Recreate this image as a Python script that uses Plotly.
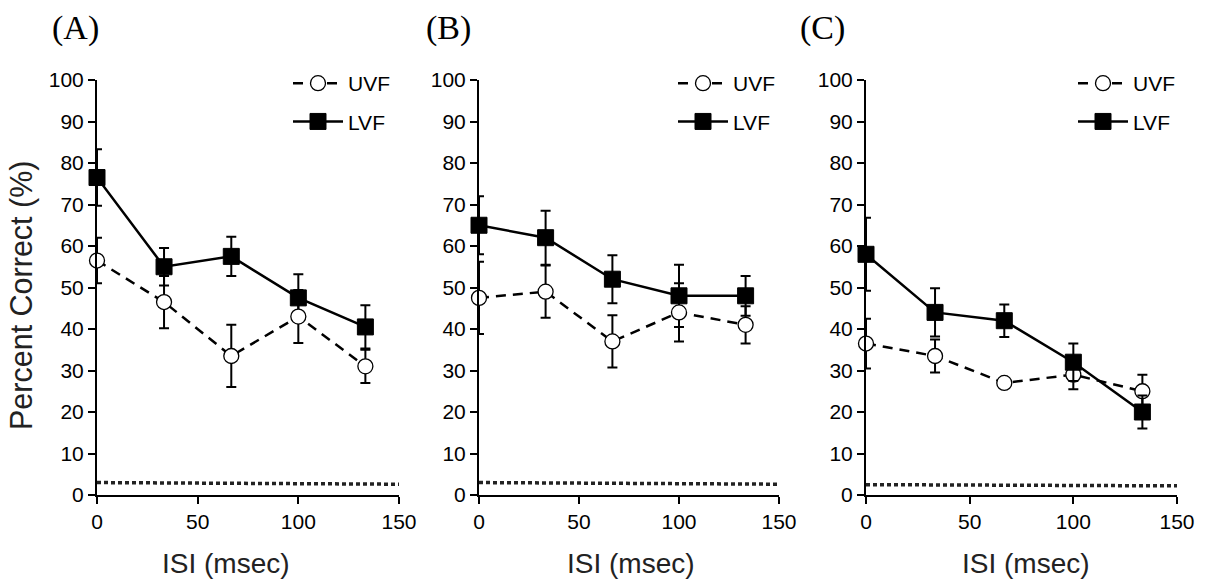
import plotly.graph_objects as go

# ---------------- data ----------------
isi = [0, 33.3, 66.7, 100, 133.3]
panel_labels = ["(A)", "(B)", "(C)"]

uvf_A = [56.5, 46.5, 33.5, 43.0, 31.0]
uvf_A_err = [5.5, 6.3, 7.5, 6.4, 4.0]
lvf_A = [76.5, 55.0, 57.5, 47.5, 40.5]
lvf_A_err = [6.8, 4.5, 4.7, 5.7, 5.2]

uvf_B = [47.5, 49.0, 37.0, 44.0, 41.0]
uvf_B_err = [8.7, 6.3, 6.3, 7.0, 4.5]
lvf_B = [65.0, 62.0, 52.0, 48.0, 48.0]
lvf_B_err = [7.0, 6.5, 5.8, 7.5, 4.8]

uvf_C = [36.5, 33.5, 27.0, 29.0, 25.0]
uvf_C_err = [6.0, 4.0, 1.0, 3.5, 4.0]
lvf_C = [58.0, 44.0, 42.0, 32.0, 20.0]
lvf_C_err = [8.8, 5.8, 3.9, 4.5, 4.0]

chance_x = [0, 150]
chance_A = [3.0, 2.6]
chance_B = [3.0, 2.6]
chance_C = [2.5, 2.2]

x_ticks = [0, 50, 100, 150]
y_ticks = list(range(0, 101, 10))

W, H = 1205, 585
FONT = "Liberation Sans, Arial, Helvetica, sans-serif"

panels = [
    dict(uvf=uvf_A, ue=uvf_A_err, lvf=lvf_A, le=lvf_A_err, ch=chance_A, lvf_top=False),
    dict(uvf=uvf_B, ue=uvf_B_err, lvf=lvf_B, le=lvf_B_err, ch=chance_B, lvf_top=False),
    dict(uvf=uvf_C, ue=uvf_C_err, lvf=lvf_C, le=lvf_C_err, ch=chance_C, lvf_top=True),
]

# pixel layout of each panel's plot area (left, right)
x_px = [(97, 399), (479, 779), (866, 1177)]
y_top_px, y_bot_px = 80, 495
legend_left_px = [288, 673, 1073]
label_cx = [75, 448, 822]
isi_cx = [226, 631, 1026]

fig = go.Figure()

for i, p in enumerate(panels):
    n = "" if i == 0 else str(i + 1)
    xa, ya = "x" + n, "y" + n
    leg = "legend" + n

    chance = go.Scatter(
        x=chance_x, y=p["ch"], xaxis=xa, yaxis=ya, mode="lines",
        line=dict(color="#222", width=3.5, dash="4px,3px"),
        showlegend=False, hoverinfo="skip",
    )
    uvf = go.Scatter(
        x=isi, y=p["uvf"], xaxis=xa, yaxis=ya, name="UVF", mode="lines+markers",
        line=dict(color="black", width=2.5, dash="10px,7px"),
        marker=dict(symbol="circle", size=15, color="white",
                    line=dict(color="black", width=1.3)),
        error_y=dict(type="data", array=p["ue"], visible=True, color="black",
                     thickness=2, width=5),
        legend=leg, legendrank=1, legendgroup="u" + n, cliponaxis=False,
    )
    lvf = go.Scatter(
        x=isi, y=p["lvf"], xaxis=xa, yaxis=ya, name="LVF", mode="lines+markers",
        line=dict(color="black", width=2.5),
        marker=dict(symbol="square", size=16, color="black",
                    line=dict(color="black", width=1)),
        error_y=dict(type="data", array=p["le"], visible=True, color="black",
                     thickness=2, width=5),
        legend=leg, legendrank=2, legendgroup="l" + n, cliponaxis=False,
    )
    fig.add_trace(chance)
    if p["lvf_top"]:
        fig.add_trace(uvf)
        fig.add_trace(lvf)
    else:
        fig.add_trace(lvf)
        fig.add_trace(uvf)

    l, r = x_px[i]
    axis_common = dict(
        showline=True, linecolor="black", linewidth=2,
        ticks="outside", tickcolor="black", tickwidth=2, ticklen=7,
        showgrid=False, zeroline=False, automargin=False,
        tickfont=dict(family=FONT, size=21, color="black"),
        fixedrange=True,
    )
    fig.update_layout({
        "xaxis" + n: dict(domain=[l / W, r / W], range=[0, 150], tickvals=x_ticks,
                          anchor=ya, **axis_common),
        "yaxis" + n: dict(domain=[1 - y_bot_px / H, 1 - y_top_px / H], range=[0, 100],
                          tickvals=y_ticks, anchor=xa, **axis_common),
        leg: dict(x=legend_left_px[i] / W, y=1 - 63 / H, xanchor="left", yanchor="top",
                  bgcolor="rgba(0,0,0,0)", tracegroupgap=8, itemwidth=50,
                  font=dict(family=FONT, size=21, color="black"),
                  traceorder="grouped"),
    })

    fig.add_annotation(
        x=label_cx[i] / W, y=1 - 28 / H, xref="paper", yref="paper",
        xanchor="center", yanchor="middle",
        text=panel_labels[i], showarrow=False,
        font=dict(family="Liberation Serif, Times New Roman, serif", size=34, color="black"),
    )
    fig.add_annotation(
        x=isi_cx[i] / W, y=1 - 563 / H, xref="paper", yref="paper",
        xanchor="center", yanchor="middle", text="ISI (msec)", showarrow=False,
        font=dict(family=FONT, size=28, color="#222"),
    )

fig.add_annotation(
    x=21 / W, y=1 - 296 / H, xref="paper", yref="paper", text="Percent Correct (%)",
    xanchor="center", yanchor="middle",
    textangle=-90, showarrow=False, font=dict(family=FONT, size=30.5, color="#222"),
)

fig.update_layout(
    width=W, height=H, autosize=False,
    margin=dict(l=0, r=0, t=0, b=0, pad=0, autoexpand=False),
    paper_bgcolor="white", plot_bgcolor="white",
)

fig.write_html("out.html", config={"displayModeBar": False},
               post_script="document.body.style.margin='0px';document.body.style.overflow='hidden';")
